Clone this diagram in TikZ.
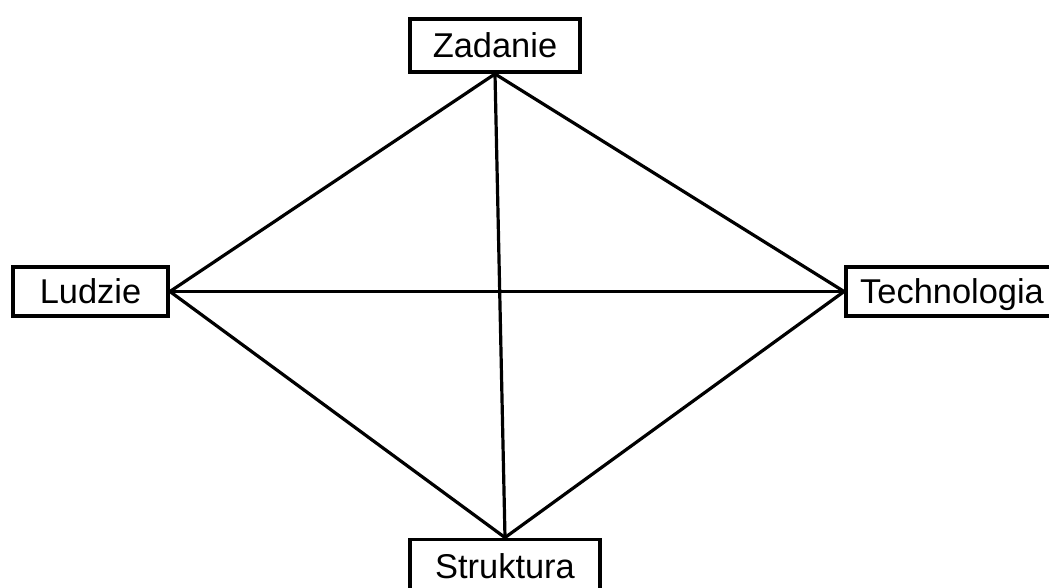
\documentclass[tikz,border=0pt]{standalone}
\usepackage{fontspec}
\setmainfont{Liberation Sans}

\begin{document}
\begin{tikzpicture}[x=0.75pt,y=-0.75pt,
    element/.style={draw,line width=2.9pt,inner sep=0pt,text height=18.5pt,text depth=0pt,
        font=\fontsize{25.8}{30}\selectfont},
    link/.style={line width=2.4pt}]
            \useasboundingbox (0,0) rectangle (1049,588);

            \node[element,minimum width=127.5pt,minimum height=39.75pt] (zadanie) at (495,45.5) {Zadanie};
            \node[element,minimum width=116.25pt,minimum height=36.75pt] (ludzie) at (90.5,291.5) {Ludzie};
            \node[element,minimum width=159pt,minimum height=36.75pt] (technologia) at (952,291.5) {Technologia};
            \node[element,minimum width=142.5pt,minimum height=39.75pt] (struktura) at (505,566) {Struktura};

            \draw[link] (zadanie.south) -- (ludzie.east);
            \draw[link] (zadanie.south) -- (technologia.west);
            \draw[link] (zadanie.south) -- (struktura.north);
            \draw[link] (ludzie.east) -- (technologia.west);
            \draw[link] (ludzie.east) -- (struktura.north);
            \draw[link] (technologia.west) -- (struktura.north);

        \end{tikzpicture}
\end{document}
